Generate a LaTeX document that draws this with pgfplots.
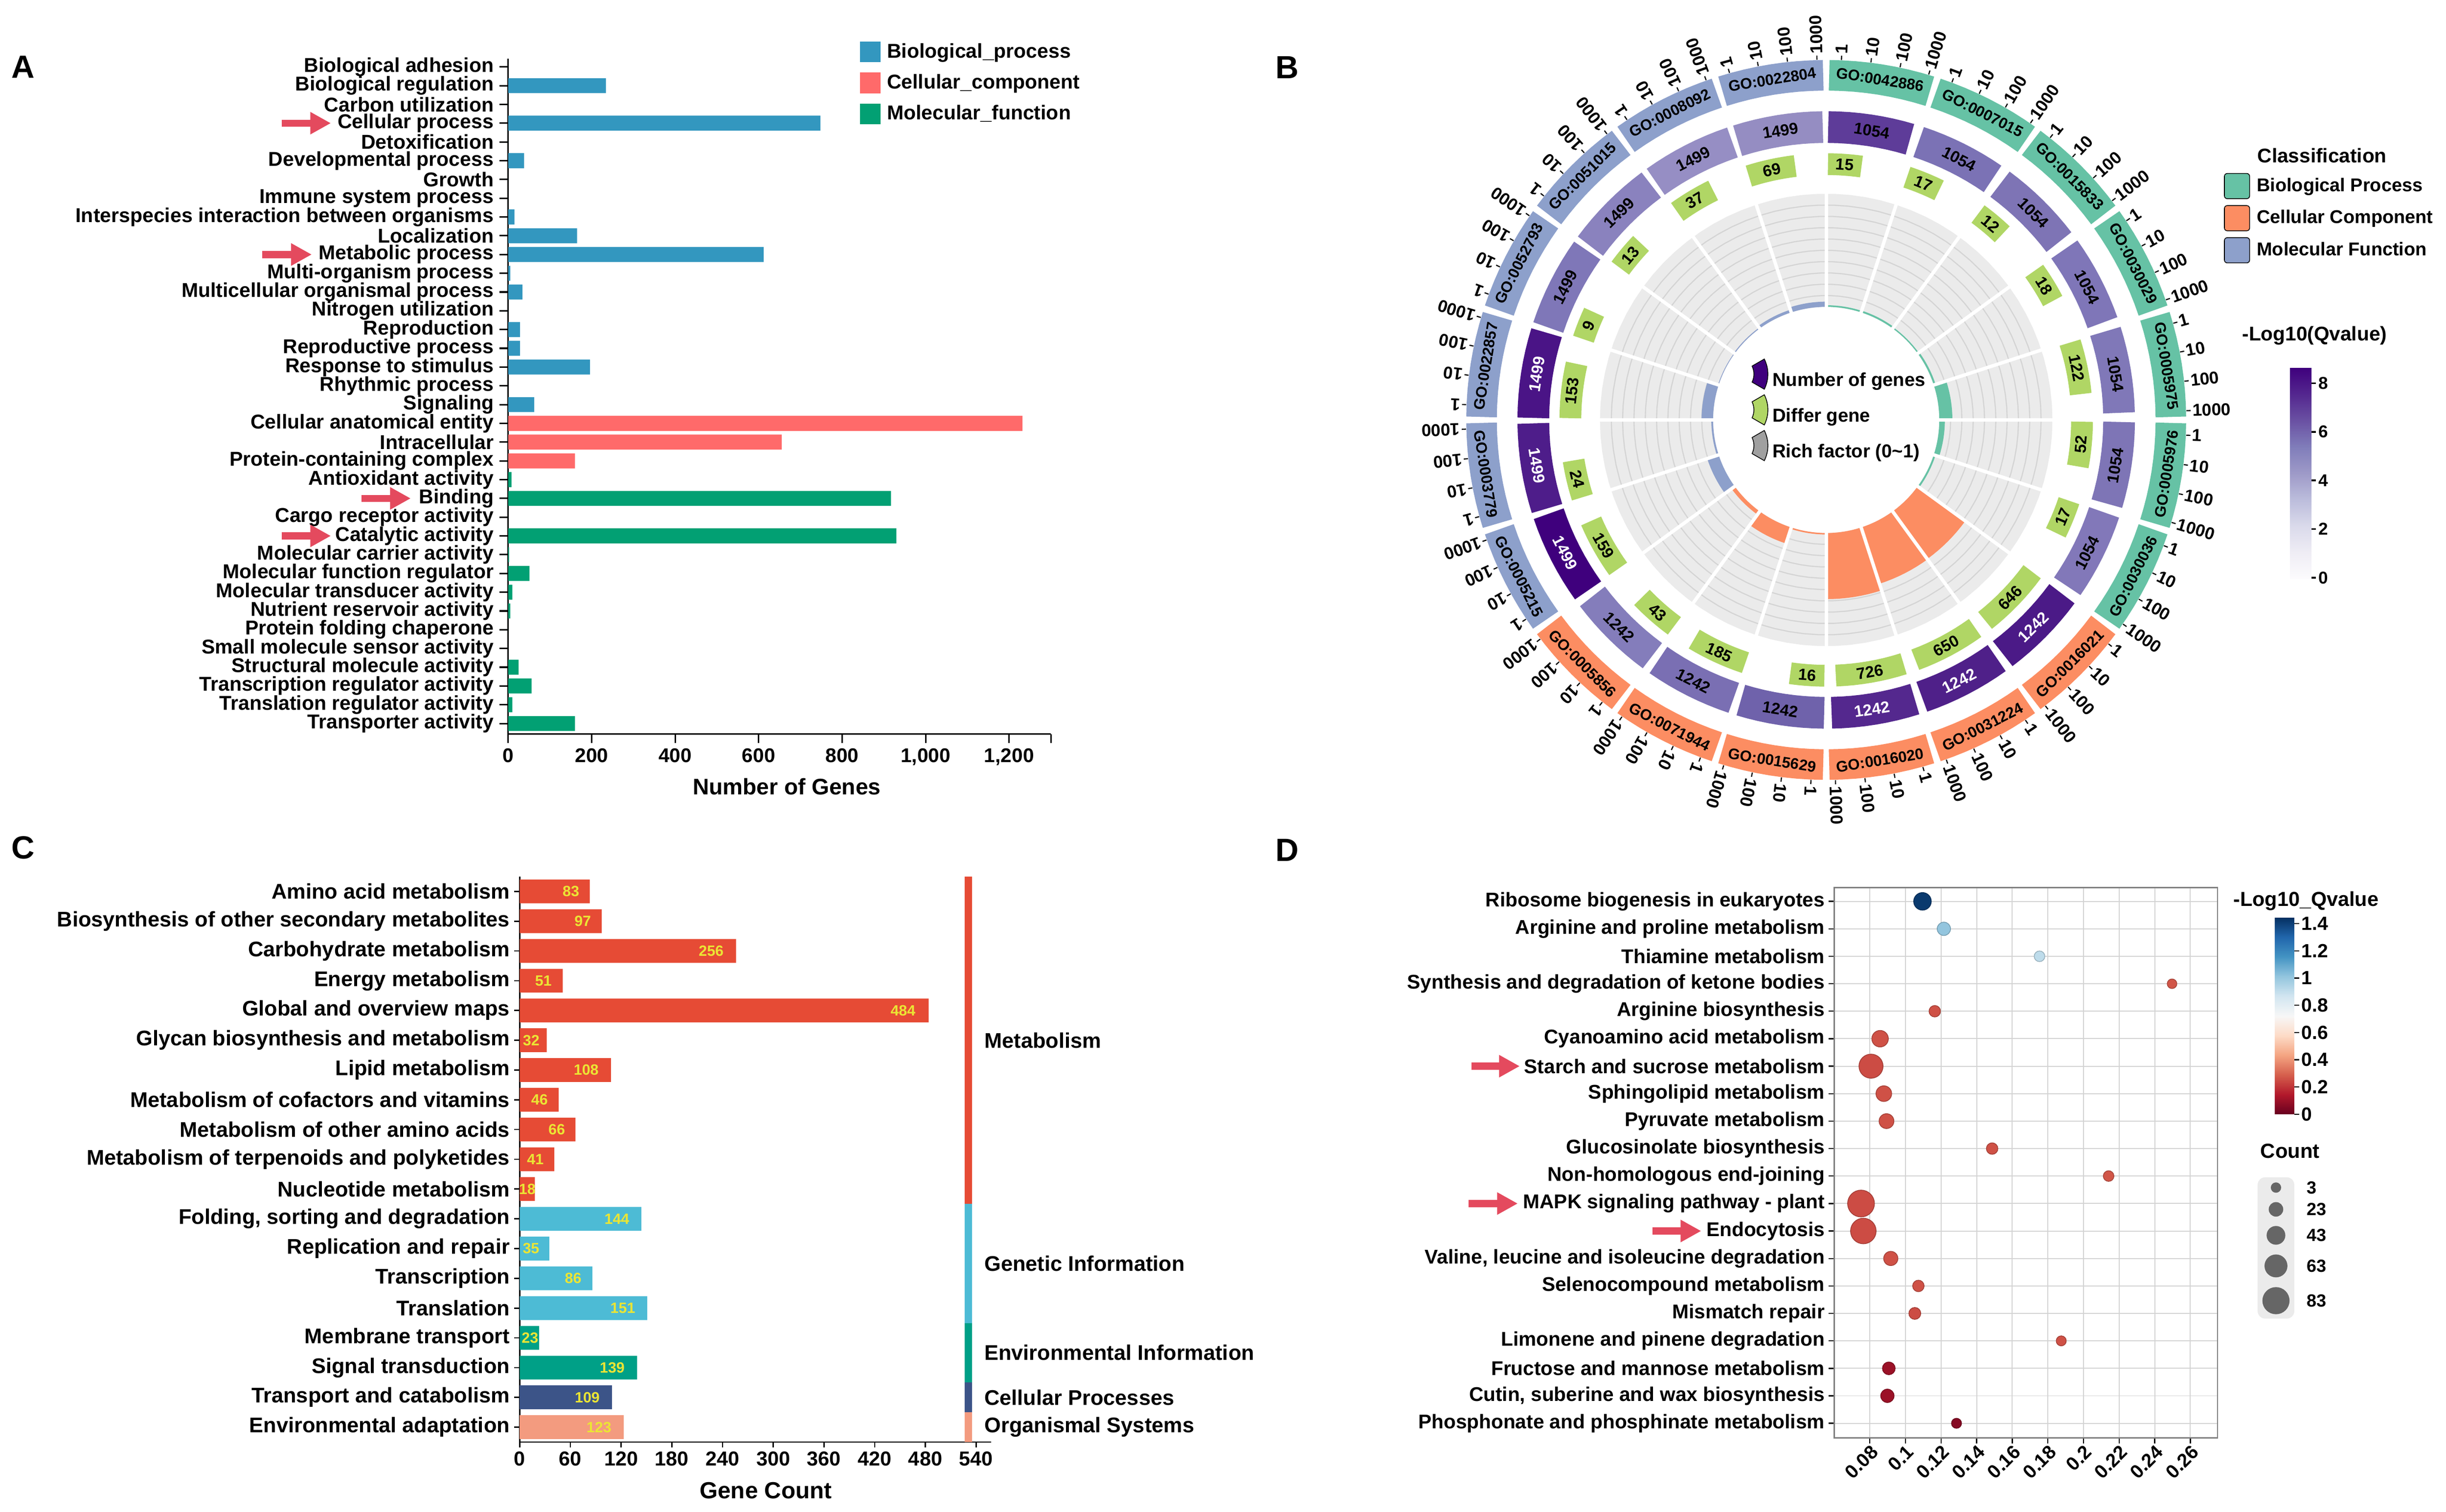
\documentclass[border=0pt]{standalone}
\usepackage{fontspec}
\setmainfont{Liberation Sans}
\usepackage{pgfplots}
\pgfplotsset{compat=1.18}
\usepackage{pgfplotstable}
\usepgfplotslibrary{polar,patchplots}
\usetikzlibrary{arrows.meta}

\definecolor{aBP}{HTML}{3397BF}
\definecolor{aCC}{HTML}{FF6A6A}
\definecolor{aMF}{HTML}{02A073}
\definecolor{arrowred}{HTML}{E44A5E}
\definecolor{cBP}{HTML}{66C2A5}
\definecolor{cCC}{HTML}{FC8D62}
\definecolor{cMF}{HTML}{8DA0CB}
\definecolor{dgreen}{HTML}{B0D665}
\definecolor{bggrey}{HTML}{EBEBEB}
\definecolor{gridgrey}{HTML}{D4D4D4}
\definecolor{legP}{HTML}{3F007D}
\definecolor{legG}{HTML}{A0A0A0}
\definecolor{q0}{HTML}{5E3C99}
\definecolor{q1}{HTML}{7B72B5}
\definecolor{q2}{HTML}{7E74B5}
\definecolor{q3}{HTML}{7F76B8}
\definecolor{q4}{HTML}{8078B8}
\definecolor{q5}{HTML}{7E75B6}
\definecolor{q6}{HTML}{8278B9}
\definecolor{q7}{HTML}{4B1A87}
\definecolor{q8}{HTML}{4F2089}
\definecolor{q9}{HTML}{54288E}
\definecolor{q10}{HTML}{6F62AB}
\definecolor{q11}{HTML}{7A6FB3}
\definecolor{q12}{HTML}{847DBB}
\definecolor{q13}{HTML}{3F007D}
\definecolor{q14}{HTML}{4E1D8A}
\definecolor{q15}{HTML}{4A1486}
\definecolor{q16}{HTML}{7F77B8}
\definecolor{q17}{HTML}{8A82BE}
\definecolor{q18}{HTML}{968EC4}
\definecolor{q19}{HTML}{958DC2}
\definecolor{cMet}{HTML}{E64B35}
\definecolor{cGen}{HTML}{4DBBD5}
\definecolor{cEnv}{HTML}{00A087}
\definecolor{cCel}{HTML}{3C5488}
\definecolor{cOrg}{HTML}{F39B7F}
\definecolor{labY}{HTML}{EBE534}
\definecolor{gridD}{HTML}{D3D3D3}
\definecolor{frameD}{HTML}{7F7F7F}
\definecolor{cntgrey}{HTML}{666666}
\definecolor{legbg}{HTML}{EBEBEB}

\newcommand\fs[1]{\bfseries\fontsize{#1}{#1}\selectfont}
\newcommand\PX[1]{#1*0.2pt}
\newcommand\PY[1]{-#1*0.2pt}
\newcommand\tk{\rule[0.3em]{2.2pt}{0.6pt}\hspace{1pt}}

\pgfplotsset{
  colormap={purp}{rgb255=(252,251,253) rgb255=(239,237,245) rgb255=(218,218,235) rgb255=(188,189,220) rgb255=(158,154,200) rgb255=(128,125,186) rgb255=(106,81,163) rgb255=(84,39,143) rgb255=(63,0,125)},
  colormap={rdbu}{rgb255=(103,0,31) rgb255=(178,24,43) rgb255=(214,96,77) rgb255=(244,165,130) rgb255=(253,219,199) rgb255=(247,247,247) rgb255=(209,229,240) rgb255=(146,197,222) rgb255=(67,147,195) rgb255=(33,102,172) rgb255=(5,48,97)},
  wedge/.style={legend image code/.code={\fill[##1, yshift=3.5pt] (0pt,4.2pt) -- (6.4pt,7.9pt) .. controls (8.9pt,3pt) and (8.9pt,-3pt) .. (6.4pt,-7.9pt) -- (0pt,-4.2pt) .. controls (1.3pt,-1.5pt) and (1.3pt,1.5pt) .. cycle;}},
}

% ---------- data ----------
\pgfplotstableread{
t d
0 0
0.125 0
0.25 0
0.375 0
0.5 0
0.625 0
0.75 0
0.875 0
1 0
}\arcT
\pgfplotstableread{
r d
290 0
600 0
}\radT
\pgfplotstableread{
a d
0 0
4 0
8 0
12 0
16 0
20 0
24 0
28 0
32 0
36 0
40 0
44 0
48 0
52 0
56 0
60 0
64 0
68 0
72 0
76 0
80 0
84 0
88 0
92 0
96 0
100 0
104 0
108 0
112 0
116 0
120 0
124 0
128 0
132 0
136 0
140 0
144 0
148 0
152 0
156 0
160 0
164 0
168 0
172 0
176 0
180 0
184 0
188 0
192 0
196 0
200 0
204 0
208 0
212 0
216 0
220 0
224 0
228 0
232 0
236 0
240 0
244 0
248 0
252 0
256 0
260 0
264 0
268 0
272 0
276 0
280 0
284 0
288 0
292 0
296 0
300 0
304 0
308 0
312 0
316 0
320 0
324 0
328 0
332 0
336 0
340 0
344 0
348 0
352 0
356 0
360 0
364 0
}\circT

\pgfplotstableread{
k go cat tot dif rf tc
0 GO:0042886 BP 1054 15 0.0142 0
1 GO:0007015 BP 1054 17 0.0161 0
2 GO:0015833 BP 1054 12 0.0114 0
3 GO:0030029 BP 1054 18 0.0171 0
4 GO:0005975 BP 1054 122 0.1157 0
5 GO:0005976 BP 1054 52 0.0493 0
6 GO:0030036 BP 1054 17 0.0161 0
7 GO:0016021 CC 1242 646 0.5201 1
8 GO:0031224 CC 1242 650 0.5233 1
9 GO:0016020 CC 1242 726 0.5845 1
10 GO:0015629 CC 1242 16 0.0129 0
11 GO:0071944 CC 1242 185 0.1490 0
12 GO:0005856 CC 1242 43 0.0346 0
13 GO:0005215 MF 1499 159 0.1061 1
14 GO:0003779 MF 1499 24 0.0160 1
15 GO:0022857 MF 1499 153 0.1021 1
16 GO:0052793 MF 1499 9 0.0060 0
17 GO:0051015 MF 1499 13 0.0087 0
18 GO:0008092 MF 1499 37 0.0247 0
19 GO:0022804 MF 1499 69 0.0460 0
}\Btab

\pgfplotstableread{
i lx v
0 60.6 83
1 74.6 97
2 226.6 256
3 28 51
4 453.6 484
5 13.6 32
6 78.7 108
7 23.5 46
8 43.9 66
9 18.5 41
10 9 18
11 115 144
12 13.4 35
13 63.3 86
14 122 151
15 12.2 23
16 109.5 139
17 80 109
18 93.8 123
}\Clab

\pgfplotstableread{
i x n q
0 0.1096 41 1.42
1 0.1216 21 1.01
2 0.1753 8 0.91
3 0.2497 3 0.27
4 0.1165 12 0.26
5 0.0858 36 0.26
6 0.0807 72 0.25
7 0.0879 32 0.26
8 0.0894 28 0.26
9 0.1487 12 0.26
10 0.2141 8 0.27
11 0.0751 85 0.25
12 0.0764 79 0.25
13 0.0918 25 0.26
14 0.1073 12 0.26
15 0.1053 14 0.25
16 0.1875 5 0.26
17 0.0907 18 0.10
18 0.0899 21 0.10
19 0.1287 5 0.06
}\Dtab

\begin{document}
\begin{tikzpicture}
\useasboundingbox (0,0) rectangle ({\PX{6401}},{\PY{3957}});

% ================= Panel A =================
\begin{axis}[
  at={({\PX{1330}},{\PY{1921}})}, anchor=south west,
  scale only axis, width=284pt, height=353.4pt,
  xmin=0, xmax=1300, ymin=-0.43, ymax=35.56, y dir=reverse,
  axis x line*=bottom, axis y line*=left,
  axis line style={line width=0.8pt},
  xtick={0,200,400,600,800,1000,1200},
  extra x ticks={1300}, extra x tick labels={},
  scaled x ticks=false,
  ytick={0,...,35},
  yticklabels={Biological adhesion, Biological regulation, Carbon utilization, Cellular process, Detoxification, Developmental process, Growth, Immune system process, Interspecies interaction between organisms, Localization, Metabolic process, Multi-organism process, Multicellular organismal process, Nitrogen utilization, Reproduction, Reproductive process, Response to stimulus, Rhythmic process, Signaling, Cellular anatomical entity, Intracellular, Protein-containing complex, Antioxidant activity, Binding, Cargo receptor activity, Catalytic activity, Molecular carrier activity, Molecular function regulator, Molecular transducer activity, Nutrient reservoir activity, Protein folding chaperone, Small molecule sensor activity, Structural molecule activity, Transcription regulator activity, Translation regulator activity, Transporter activity},
  tick align=outside, major tick length=4.6pt,
  tick style={black, line width=0.8pt},
  xticklabel style={font=\fs{10.4}, inner sep=0pt, yshift=-2.8pt},
  yticklabel style={font=\fs{10.5}, inner sep=0pt, xshift=-2.8pt},
  /pgf/number format/1000 sep={,}, /pgf/number format/assume math mode=true,
  bar width=0.8, clip=false,
  legend style={at={(axis description cs:0.648,1.0255)}, anchor=north west, draw=none, fill=none, inner sep=0pt, outer sep=0pt, row sep=5.4pt, column sep=3.4pt, font=\fs{10.5}, nodes={inner sep=0pt}},
  legend cell align=left,
  legend image code/.code={\fill[#1] (0pt,-5.4pt) rectangle (10.8pt,5.4pt);},
]
\addplot[xbar, bar shift=0pt, fill=aBP, draw=none] coordinates {(0,0) (234,1) (0,2) (748,3) (0,4) (38,5) (0,6) (0,7) (15,8) (165,9) (612,10) (5,11) (34,12) (0,13) (28,14) (28,15) (196,16) (0,17) (62,18)};
\addlegendentry{Biological\_process}
\addplot[xbar, bar shift=0pt, fill=aCC, draw=none] coordinates {(1232,19) (655,20) (160,21)};
\addlegendentry{Cellular\_component}
\addplot[xbar, bar shift=0pt, fill=aMF, draw=none] coordinates {(8,22) (917,23) (0,24) (930,25) (2,26) (51,27) (10,28) (5,29) (0,30) (0,31) (25,32) (56,33) (10,34) (160,35)};
\addlegendentry{Molecular\_function}
\draw[arrowred, line width=3.7pt, -{Triangle[length=10.8pt, width=11pt]}] (axis cs:-542.9,3) -- (axis cs:-424.8,3);
\draw[arrowred, line width=3.7pt, -{Triangle[length=10.8pt, width=11pt]}] (axis cs:-589.6,10) -- (axis cs:-470.6,10);
\draw[arrowred, line width=3.7pt, -{Triangle[length=10.8pt, width=11pt]}] (axis cs:-351.6,23) -- (axis cs:-233.5,23);
\draw[arrowred, line width=3.7pt, -{Triangle[length=10.8pt, width=11pt]}] (axis cs:-542.9,25) -- (axis cs:-424.8,25);
\end{axis}
\node[font=\fs{11.8}] at ({\PX{2059}},{\PY{2058}}) {Number of Genes};
\node[font=\fs{16.8}] at ({\PX{60}},{\PY{175}}) {A};

% ================= Panel B =================
\begin{polaraxis}[
  at={({\PX{4779}},{\PY{1099}})}, anchor=center,
  scale only axis, width=376.8pt, height=376.8pt,
  xmin=0, xmax=360, ymin=0, ymax=942,
  hide axis, clip=false,
  legend style={at={(axis description cs:0.3965,0.514)}, anchor=west, draw=none, fill=none, inner sep=0pt, outer sep=0pt, row sep=2.5pt, column sep=1.6pt, font=\fs{9.8}, nodes={inner sep=0pt}},
  legend cell align=left,
]
\addplot[forget plot, no marks, line width=59.2pt, color=bggrey] table[x=a, y expr=444] {\circT};
\pgfplotsinvokeforeach{325.6,355.2,384.8,414.4,444,473.6,503.2,532.8,562.4}{
  \addplot[forget plot, no marks, line width=0.6pt, color=gridgrey] table[x=a, y expr=#1] {\circT};
}
\pgfplotsforeachungrouped \k in {0,...,19}{%
  \pgfplotstablegetelem{\k}{rf}\of\Btab \let\rf\pgfplotsretval
  \pgfplotstablegetelem{\k}{cat}\of\Btab \let\cat\pgfplotsretval
  \pgfmathsetmacro\za{90-18*\k}%
  \pgfmathsetmacro\rw{59.2*\rf}%
  \pgfmathsetmacro\rr{296+148*\rf}%
  \edef\doit{\noexpand\addplot[forget plot, no marks, line width=\rw pt, color=c\cat] table[x expr={\za-18*\noexpand\thisrow{t}}, y expr=\rr] {\noexpand\arcT};}%
  \doit
}
\pgfplotsinvokeforeach{0,...,19}{
  \addplot[forget plot, no marks, white, line width=1.8pt] table[x expr={90-18*#1}, y=r] {\radT};
}
\pgfplotsforeachungrouped \k in {0,...,19}{%
  \pgfplotstablegetelem{\k}{go}\of\Btab \let\go\pgfplotsretval
  \pgfplotstablegetelem{\k}{cat}\of\Btab \let\cat\pgfplotsretval
  \pgfplotstablegetelem{\k}{tot}\of\Btab \let\tot\pgfplotsretval
  \pgfplotstablegetelem{\k}{dif}\of\Btab \let\dif\pgfplotsretval
  \pgfplotstablegetelem{\k}{tc}\of\Btab \let\tc\pgfplotsretval
  \ifnum\k<5 \def\base{90}\else\def\base{450}\fi
  \pgfmathsetmacro\za{\base-18*\k}%
  \pgfmathsetmacro\ga{\za-0.5}%
  \pgfmathsetmacro\na{\za-0.4}%
  \pgfmathsetmacro\nw{-2.0-4.7*log10(\tot)}%
  \pgfmathsetmacro\dw{-2.0-4.7*log10(\dif)}%
  \pgfmathsetmacro\zc{\za-9}%
  \pgfmathsetmacro\rotc{ifthenelse(\zc<180,\zc-90,\zc+90)}%
  \pgfmathsetmacro\dc{\na+\dw/2}%
  \pgfmathsetmacro\rotd{ifthenelse(\dc<180,\dc-90,\dc+90)}%
  \pgfmathsetmacro\tA{\za-2.4}%
  \pgfmathsetmacro\tB{\za-7.1}%
  \pgfmathsetmacro\tC{\za-11.8}%
  \pgfmathsetmacro\tD{\za-16.5}%
  \ifnum\tc=1 \def\tcol{white}\else\def\tcol{black}\fi
  \edef\doit{%
    \noexpand\addplot[forget plot, no marks, line width=16pt, color=c\cat] table[x expr={\ga-17*\noexpand\thisrow{t}}, y expr=902] {\noexpand\arcT};
    \noexpand\addplot[forget plot, no marks, line width=16.6pt, color=q\k] table[x expr={\na+\nw*\noexpand\thisrow{t}}, y expr=766.5] {\noexpand\arcT};
    \noexpand\addplot[forget plot, no marks, line width=11.4pt, color=dgreen] table[x expr={\na+\dw*\noexpand\thisrow{t}}, y expr=669.5] {\noexpand\arcT};
    \noexpand\node[rotate=\rotc, font=\noexpand\fs{8}] at (axis cs:\zc,902) {\go};
    \noexpand\node[rotate=\rotc, font=\noexpand\fs{8.4}, text=\tcol] at (axis cs:\zc,766.5) {\tot};
    \noexpand\node[rotate=\rotd, font=\noexpand\fs{8.4}] at (axis cs:\dc,669.5) {\dif};
    \noexpand\node[rotate=\tA, anchor=west, inner sep=0pt, font=\noexpand\fs{9}] at (axis cs:\tA,942) {\noexpand\tk 1};
    \noexpand\node[rotate=\tB, anchor=west, inner sep=0pt, font=\noexpand\fs{9}] at (axis cs:\tB,942) {\noexpand\tk 10};
    \noexpand\node[rotate=\tC, anchor=west, inner sep=0pt, font=\noexpand\fs{9}] at (axis cs:\tC,942) {\noexpand\tk 100};
    \noexpand\node[rotate=\tD, anchor=west, inner sep=0pt, font=\noexpand\fs{9}] at (axis cs:\tD,942) {\noexpand\tk 1000};
  }%
  \doit
}
\addlegendimage{wedge, fill=legP}
\addlegendentry{Number of genes}
\addlegendimage{wedge, fill=dgreen}
\addlegendentry{Differ gene}
\addlegendimage{wedge, fill=legG}
\addlegendentry{Rich factor (0\textasciitilde1)}
\end{polaraxis}
\node[font=\fs{16.8}] at ({\PX{3369}},{\PY{177}}) {B};

% B colour bar + classification legend
\begin{axis}[
  at={({\PX{5993}},{\PY{1515}})}, anchor=south west,
  scale only axis, width=11pt, height=110.4pt,
  xmin=0, xmax=1, ymin=-0.05, ymax=8.63,
  axis x line=none, axis y line*=right, axis line style={draw=none},
  xtick=\empty, ytick={0,2,4,6,8},
  tick align=outside, major tick length=2.6pt, tick style={black, line width=0.9pt},
  yticklabel style={font=\fs{9}, inner sep=0pt, xshift=1pt},
  /pgf/number format/assume math mode=true,
  colormap name=purp, clip=false,
  legend style={at={(axis description cs:-3.145,1.924)}, anchor=north west, draw=none, fill=none, inner sep=0pt, outer sep=0pt, row sep=3.2pt, column sep=3.6pt, font=\fs{9.7}, nodes={inner sep=0pt}},
  legend cell align=left,
  legend image code/.code={\fill[#1, rounded corners=1.5pt] (0pt,-6.6pt) rectangle (13.2pt,6.6pt);},
]
\addplot[forget plot, patch, patch type=rectangle, shader=interp, point meta=explicit] coordinates {
(0,-0.05) [-0.05] (1,-0.05) [-0.05] (1,1.035) [1.035] (0,1.035) [1.035]
(0,1.035) [1.035] (1,1.035) [1.035] (1,2.12) [2.12] (0,2.12) [2.12]
(0,2.12) [2.12] (1,2.12) [2.12] (1,3.205) [3.205] (0,3.205) [3.205]
(0,3.205) [3.205] (1,3.205) [3.205] (1,4.29) [4.29] (0,4.29) [4.29]
(0,4.29) [4.29] (1,4.29) [4.29] (1,5.375) [5.375] (0,5.375) [5.375]
(0,5.375) [5.375] (1,5.375) [5.375] (1,6.46) [6.46] (0,6.46) [6.46]
(0,6.46) [6.46] (1,6.46) [6.46] (1,7.545) [7.545] (0,7.545) [7.545]
(0,7.545) [7.545] (1,7.545) [7.545] (1,8.63) [8.63] (0,8.63) [8.63]
};
\addlegendimage{fill=cBP}
\addlegendentry{Biological Process}
\addlegendimage{fill=cCC}
\addlegendentry{Cellular Component}
\addlegendimage{fill=cMF}
\addlegendentry{Molecular Function}
\end{axis}
\node[font=\fs{10.4}, anchor=west] at ({\PX{5890}},{\PY{407}}) {Classification};
\node[font=\fs{10.4}] at ({\PX{6057}},{\PY{878}}) {-Log10(Qvalue)};

% ================= Panel C =================
\begin{axis}[
  at={({\PX{1360}},{\PY{3774}})}, anchor=south west,
  scale only axis, width=246.8pt, height=296pt,
  xmin=0, xmax=558, ymin=-0.5, ymax=18.5, y dir=reverse,
  axis x line*=bottom, axis y line*=left,
  axis line style={line width=0.7pt},
  xtick={0,60,...,540},
  ytick={0,...,18},
  yticklabels={Amino acid metabolism, Biosynthesis of other secondary metabolites, Carbohydrate metabolism, Energy metabolism, Global and overview maps, Glycan biosynthesis and metabolism, Lipid metabolism, Metabolism of cofactors and vitamins, Metabolism of other amino acids, Metabolism of terpenoids and polyketides, Nucleotide metabolism, {Folding, sorting and degradation}, Replication and repair, Transcription, Translation, Membrane transport, Signal transduction, Transport and catabolism, Environmental adaptation},
  tick align=outside, major tick length=2.8pt,
  tick style={black, line width=0.7pt},
  xticklabel style={font=\fs{10.6}, inner sep=0pt, yshift=-2pt},
  yticklabel style={font=\fs{11.1}, inner sep=0pt, xshift=-2.2pt},
  /pgf/number format/assume math mode=true,
  bar width=0.8, clip=false,
]
\addplot[xbar, bar shift=0pt, fill=cMet, draw=none] coordinates {(83,0) (97,1) (256,2) (51,3) (484,4) (32,5) (108,6) (46,7) (66,8) (41,9) (18,10)};
\addplot[xbar, bar shift=0pt, fill=cGen, draw=none] coordinates {(144,11) (35,12) (86,13) (151,14)};
\addplot[xbar, bar shift=0pt, fill=cEnv, draw=none] coordinates {(23,15) (139,16)};
\addplot[xbar, bar shift=0pt, fill=cCel, draw=none] coordinates {(109,17)};
\addplot[xbar, bar shift=0pt, fill=cOrg, draw=none] coordinates {(123,18)};
\addplot[draw=none, mark=none, nodes near coords, point meta=explicit symbolic, nodes near coords align=center, every node near coord/.append style={font=\fs{7.8}, text=labY, inner sep=0pt}] table[x=lx, y=i, meta=v] {\Clab};
\addplot[line width=3.8pt, color=cMet] coordinates {(531,-0.5) (531,10.5)};
\addplot[line width=3.8pt, color=cGen] coordinates {(531,10.5) (531,14.5)};
\addplot[line width=3.8pt, color=cEnv] coordinates {(531,14.5) (531,16.5)};
\addplot[line width=3.8pt, color=cCel] coordinates {(531,16.5) (531,17.5)};
\addplot[line width=3.8pt, color=cOrg] coordinates {(531,17.5) (531,18.5)};
\node[anchor=west, font=\fs{11.1}] at (axis cs:542,5) {Metabolism};
\node[anchor=west, font=\fs{11.1}] at (axis cs:542,12.5) {Genetic Information};
\node[anchor=west, font=\fs{11.1}] at (axis cs:542,15.5) {Environmental Information};
\node[anchor=west, font=\fs{11.1}] at (axis cs:542,17) {Cellular Processes};
\node[anchor=west, font=\fs{11.1}] at (axis cs:542,18) {Organismal Systems};
\end{axis}
\node[font=\fs{12.2}] at ({\PX{2004}},{\PY{3901}}) {Gene Count};
\node[font=\fs{16.8}] at ({\PX{61}},{\PY{2219}}) {C};

% ================= Panel D =================
\begin{axis}[
  at={({\PX{4800}},{\PY{3763}})}, anchor=south west,
  scale only axis, width=200.6pt, height=288pt,
  xmin=0.06005, xmax=0.27523, ymin=-0.5, ymax=19.53, y dir=reverse,
  xtick={0.08,0.1,0.12,0.14,0.16,0.18,0.2,0.22,0.24,0.26},
  xticklabels={0.08,0.1,0.12,0.14,0.16,0.18,0.2,0.22,0.24,0.26},
  ytick={0,...,19},
  yticklabels={Ribosome biogenesis in eukaryotes, Arginine and proline metabolism, Thiamine metabolism, Synthesis and degradation of ketone bodies, Arginine biosynthesis, Cyanoamino acid metabolism, Starch and sucrose metabolism, Sphingolipid metabolism, Pyruvate metabolism, Glucosinolate biosynthesis, Non-homologous end-joining, MAPK signaling pathway - plant, Endocytosis, {Valine, leucine and isoleucine degradation}, Selenocompound metabolism, Mismatch repair, Limonene and pinene degradation, Fructose and mannose metabolism, {Cutin, suberine and wax biosynthesis}, Phosphonate and phosphinate metabolism},
  tick pos=left,
  grid=major, major grid style={color=gridD, line width=0.5pt},
  axis line style={color=frameD, line width=0.7pt},
  tick align=outside, major tick length=3pt,
  tick style={black, line width=0.6pt},
  xticklabel style={rotate=45, anchor=north east, font=\fs{10}, inner sep=0pt},
  yticklabel style={font=\fs{10.4}, inner sep=0pt, xshift=-1.8pt},
  colormap name=rdbu, point meta min=0, point meta max=1.445,
  clip=false,
]
\addplot[scatter, only marks, mark=*, point meta=\thisrow{q},
  visualization depends on={\thisrow{n} \as \cnt},
  scatter/@pre marker code/.append style={/tikz/mark size={2.335+0.055*\cnt}}]
  table[x=x, y=i] {\Dtab};
\draw[arrowred, line width=3.7pt, -{Triangle[length=10.8pt, width=11pt]}] (axis cs:-0.1436,6) -- (axis cs:-0.1165,6);
\draw[arrowred, line width=3.7pt, -{Triangle[length=10.8pt, width=11pt]}] (axis cs:-0.1451,11) -- (axis cs:-0.1176,11);
\draw[arrowred, line width=3.7pt, -{Triangle[length=10.8pt, width=11pt]}] (axis cs:-0.0419,12) -- (axis cs:-0.0146,12);
\end{axis}
\node[font=\fs{16.8}] at ({\PX{3368}},{\PY{2225}}) {D};

% D colour bar
\begin{axis}[
  at={({\PX{5953}},{\PY{2916}})}, anchor=south west,
  scale only axis, width=10.2pt, height=103pt,
  xmin=0, xmax=1, ymin=0, ymax=1.445,
  axis x line=none, axis y line*=right, axis line style={draw=none},
  xtick=\empty, ytick={0,0.2,0.4,0.6,0.8,1,1.2,1.4},
  yticklabels={0,0.2,0.4,0.6,0.8,1,1.2,1.4},
  tick align=outside, major tick length=2.6pt, tick style={black, line width=0.6pt},
  yticklabel style={font=\fs{10}, inner sep=0pt, xshift=1pt},
  colormap name=rdbu, clip=false,
]
\addplot[forget plot, patch, patch type=rectangle, shader=interp, point meta=explicit] coordinates {
(0,0) [0] (1,0) [0] (1,0.1445) [0.1445] (0,0.1445) [0.1445]
(0,0.1445) [0.1445] (1,0.1445) [0.1445] (1,0.289) [0.289] (0,0.289) [0.289]
(0,0.289) [0.289] (1,0.289) [0.289] (1,0.4335) [0.4335] (0,0.4335) [0.4335]
(0,0.4335) [0.4335] (1,0.4335) [0.4335] (1,0.578) [0.578] (0,0.578) [0.578]
(0,0.578) [0.578] (1,0.578) [0.578] (1,0.7225) [0.7225] (0,0.7225) [0.7225]
(0,0.7225) [0.7225] (1,0.7225) [0.7225] (1,0.867) [0.867] (0,0.867) [0.867]
(0,0.867) [0.867] (1,0.867) [0.867] (1,1.0115) [1.0115] (0,1.0115) [1.0115]
(0,1.0115) [1.0115] (1,1.0115) [1.0115] (1,1.156) [1.156] (0,1.156) [1.156]
(0,1.156) [1.156] (1,1.156) [1.156] (1,1.3005) [1.3005] (0,1.3005) [1.3005]
(0,1.3005) [1.3005] (1,1.3005) [1.3005] (1,1.445) [1.445] (0,1.445) [1.445]
};
\end{axis}
\node[font=\fs{10.6}, anchor=west] at ({\PX{5827}},{\PY{2358}}) {-Log10\_Qvalue};
\node[font=\fs{10.7}, anchor=west] at ({\PX{5898}},{\PY{3012}}) {Count};

% D count legend
\fill[legbg, rounded corners=4pt] ({\PX{5908}},{\PY{3081}}) rectangle ({\PX{6004}},{\PY{3451}});
\begin{axis}[
  at={({\PX{5908}},{\PY{3451}})}, anchor=south west,
  scale only axis, width=19.2pt, height=74pt,
  xmin=5908, xmax=6004, ymin=3081, ymax=3451, y dir=reverse,
  hide axis, clip=false,
]
\addplot[scatter, only marks, mark=*, scatter/use mapped color={draw=cntgrey, fill=cntgrey},
  visualization depends on={\thisrow{n} \as \cnt},
  scatter/@pre marker code/.append style={/tikz/mark size={2.335+0.055*\cnt}}]
  table {
x y n
5956 3108 3
5956 3165 23
5956 3233 43
5956 3313 63
5956 3404 83
};
\node[anchor=west, font=\fs{9.2}] at (axis cs:6019,3108) {3};
\node[anchor=west, font=\fs{9.2}] at (axis cs:6019,3165) {23};
\node[anchor=west, font=\fs{9.2}] at (axis cs:6019,3233) {43};
\node[anchor=west, font=\fs{9.2}] at (axis cs:6019,3313) {63};
\node[anchor=west, font=\fs{9.2}] at (axis cs:6019,3404) {83};
\end{axis}

\end{tikzpicture}
\end{document}
